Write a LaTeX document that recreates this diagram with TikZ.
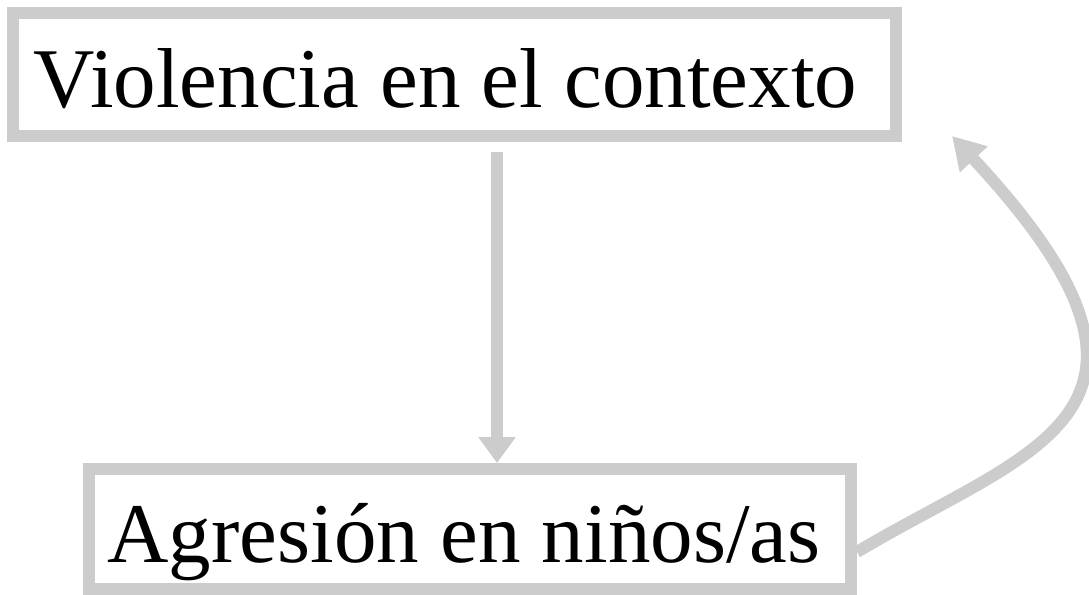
\documentclass[tikz,border=0pt]{standalone}
\usepackage{fontspec}
\setmainfont{Liberation Serif}
\usetikzlibrary{arrows.meta}
\definecolor{boxgray}{HTML}{CCCCCC}
\tikzset{
  graybox/.style={draw=boxgray, line width=12pt, rectangle, inner sep=0pt,
    font=\fontsize{85pt}{90pt}\selectfont, text depth=0pt},
  grayarrow/.style={draw=boxgray, line width=12pt},
}
\begin{document}
\begin{tikzpicture}[x=1pt,y=-1pt]
\useasboundingbox (0,0) rectangle (1089,594);
\node[graybox, minimum width=883pt, minimum height=122.5pt, text height=67pt]
  (top) at (454.5,74.25) {Violencia en el contexto\hspace*{18pt}};
\node[graybox, minimum width=762pt, minimum height=120pt, text height=66pt]
  (bot) at (470,529) {Agresión en niños/as\hspace*{12pt}};
\coordinate (tip) at (952,136);
\draw[grayarrow, -{Triangle[length=26pt,width=36pt]}, shorten <=10pt]
  ([xshift=42.5pt]top.south) -- ([xshift=27pt]bot.north);
\draw[grayarrow, -{Triangle[length=32pt,width=36pt]}]
  ([yshift=-23pt]bot.east) .. controls +(-31:200) and +(47:380) .. (tip);
\end{tikzpicture}
\end{document}
